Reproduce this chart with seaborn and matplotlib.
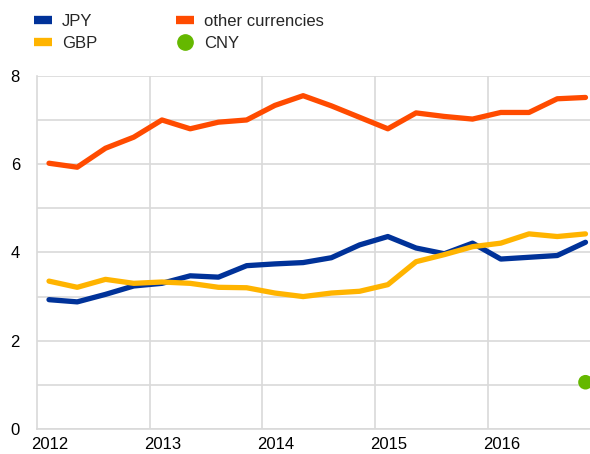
import numpy as np
import pandas as pd
import matplotlib
matplotlib.use("Agg")
import matplotlib.pyplot as plt
import seaborn as sns
from matplotlib.lines import Line2D

# quarterly observations, 2012 Q1 .. 2016 Q4
quarters = [2012.11 + 0.25 * i for i in range(20)]

jpy = [2.93, 2.88, 3.05, 3.24, 3.30, 3.47, 3.44, 3.70, 3.74, 3.77,
       3.88, 4.17, 4.36, 4.10, 3.97, 4.21, 3.85, 3.89, 3.93, 4.23]
gbp = [3.35, 3.21, 3.39, 3.30, 3.33, 3.30, 3.21, 3.20, 3.08, 3.00,
       3.08, 3.12, 3.27, 3.79, 3.95, 4.13, 4.21, 4.42, 4.36, 4.42]
other = [6.02, 5.93, 6.36, 6.61, 7.00, 6.80, 6.95, 7.00, 7.33, 7.55,
         7.32, 7.06, 6.80, 7.16, 7.08, 7.02, 7.17, 7.17, 7.48, 7.51]
cny_x = [2016.86]
cny = [1.06]

series_names = ["JPY", "GBP", "other currencies"]
colors = {"JPY": "#003299", "GBP": "#ffb400", "other currencies": "#ff4b00"}
cny_color = "#65b800"

year_ticks = [2012, 2013, 2014, 2015, 2016]

df = pd.DataFrame({
    "x": quarters * 3,
    "value": jpy + gbp + other,
    "series": np.repeat(series_names, len(quarters)),
})

sns.set_theme(style="white")
plt.rcParams['font.family'] = ['Liberation Sans', 'DejaVu Sans']

fig = plt.figure(figsize=(5.9, 4.54), dpi=100)
ax = fig.add_axes([0.062, 0.055, 0.938, 0.778])

sns.lineplot(data=df, x="x", y="value", hue="series", palette=colors,
             linewidth=3.8, legend=False, ax=ax)
sns.scatterplot(x=cny_x, y=cny, color=cny_color, s=110, edgecolor="none",
                ax=ax, zorder=5, clip_on=False)

ax.set_xlim(2012, 2016.9)
ax.set_ylim(0, 8)
ax.set_yticks([0, 2, 4, 6, 8])
ax.set_yticks([1, 3, 5, 7], minor=True)
ax.set_xticks([y + 0.12 for y in year_ticks])
ax.set_xticklabels([str(y) for y in year_ticks])
ax.set_xticks(year_ticks[1:], minor=True)

ax.grid(False)
ax.grid(True, which="minor", axis="x", color="#d9d9d9", linewidth=1.2)
ax.grid(True, which="both", axis="y", color="#d9d9d9", linewidth=1.2)
ax.set_axisbelow(True)

for side in ["top", "right"]:
    ax.spines[side].set_visible(False)
for side in ["left", "bottom"]:
    ax.spines[side].set_color("#d9d9d9")
    ax.spines[side].set_linewidth(1.2)

ax.tick_params(axis="both", which="both", length=0, labelsize=12, colors="#000000")
ax.tick_params(axis="y", pad=12)
ax.tick_params(axis="x", pad=6)
ax.set_xlabel("")
ax.set_ylabel("")

handles = [
    Line2D([], [], color=colors["JPY"], linewidth=6, solid_capstyle="butt"),
    Line2D([], [], color=colors["GBP"], linewidth=6, solid_capstyle="butt"),
    Line2D([], [], color=colors["other currencies"], linewidth=6, solid_capstyle="butt"),
    Line2D([], [], color=cny_color, marker="o", linestyle="none", markersize=11),
]
labels = ["JPY", "GBP", "other currencies", "CNY"]
fig.legend(handles, labels, ncol=2, loc="upper left", bbox_to_anchor=(0.058, 0.97),
           frameon=False, fontsize=12, handlelength=1.05, handletextpad=0.6,
           columnspacing=4.75, labelspacing=0.42, borderpad=0, borderaxespad=0)

fig.savefig("out.png", dpi=100)
